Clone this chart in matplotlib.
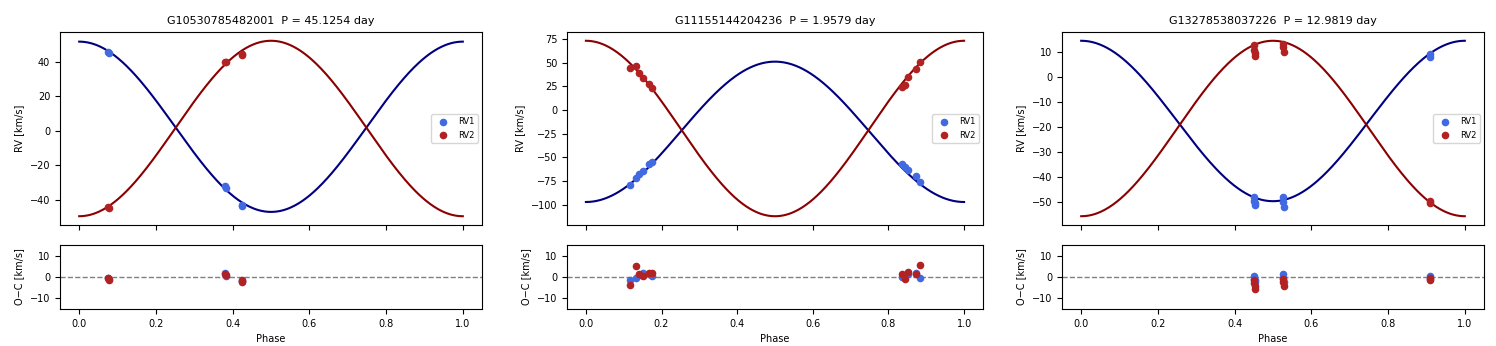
import numpy as np
import matplotlib
matplotlib.use("Agg")
import matplotlib.pyplot as plt

# star names and periods
names = ["G10530785482001", "G11155144204236", "G13278538037226"]
periods = [45.1254, 1.9579, 12.9819]

# orbit fit: systemic velocity and semi-amplitude for each component
gamma1 = [2.25, -23.0, -17.5]
k1 = [49.25, -74.0, 32.0]
gamma2 = [1.25, -19.5, -20.5]
k2 = [-50.75, 92.5, -35.0]

# observed phases / velocities / residuals
phase_a = [0.076, 0.078, 0.381, 0.383, 0.424, 0.425]
rv1_a = [45.5, 44.8, -32.0, -33.3, -43.0, -43.3]
rv2_a = [-44.0, -45.0, 39.5, 40.0, 44.5, 43.5]
oc1_a = [-0.3, -1.0, 1.8, 0.6, -1.8, -2.1]
oc2_a = [-0.5, -1.2, 1.5, 1.0, -1.5, -2.3]

phase_b = [0.117, 0.133, 0.141, 0.150, 0.166, 0.175,
           0.837, 0.845, 0.852, 0.873, 0.883]
rv1_b = [-78.9, -71.9, -67.3, -63.8, -57.1, -55.0,
         -57.1, -60.3, -63.1, -70.1, -75.4]
rv2_b = [44.8, 46.5, 38.8, 33.5, 27.6, 23.0,
         24.1, 26.5, 34.6, 43.0, 51.1]
oc1_b = [-1.4, -0.6, 0.8, 1.7, 1.3, 0.5,
         0.2, 0.6, 1.2, 1.7, -0.3]
oc2_b = [-3.8, 5.2, 1.3, 0.6, 2.0, 2.0,
         1.2, -0.9, 2.5, 1.4, 5.8]

phase_c = [0.450, 0.451, 0.452, 0.452, 0.526, 0.527, 0.528, 0.908, 0.909]
rv1_c = [-48.0, -49.3, -50.9, -50.3, -48.0, -50.0, -51.7, 9.4, 8.0]
rv2_c = [12.7, 11.0, 9.6, 8.3, 13.4, 12.0, 10.2, -49.3, -50.1]
oc1_c = [0.6, -0.8, -2.3, -1.5, 1.4, -0.6, -2.2, 0.5, -0.9]
oc2_c = [-1.2, -2.8, -4.2, -5.5, -0.9, -2.3, -4.0, -0.6, -1.4]

obs = [(phase_a, rv1_a, rv2_a, oc1_a, oc2_a),
       (phase_b, rv1_b, rv2_b, oc1_b, oc2_b),
       (phase_c, rv1_c, rv2_c, oc1_c, oc2_c)]

W, H = 1496, 346
fig = plt.figure(figsize=(W / 100, H / 100), dpi=100)

lefts = [60, 567, 1062]
rights = [482, 983, 1484]

ph = np.linspace(0, 1, 400)
for i in range(3):
    l, r = lefts[i] / W, rights[i] / W
    ax = fig.add_axes([l, (H - 225) / H, r - l, 193 / H])
    axr = fig.add_axes([l, (H - 309) / H, r - l, 64 / H], sharex=ax)

    p, v1, v2, o1, o2 = obs[i]
    ax.plot(ph, gamma1[i] + k1[i] * np.cos(2 * np.pi * ph), color="navy", lw=1.5)
    ax.plot(ph, gamma2[i] + k2[i] * np.cos(2 * np.pi * ph), color="darkred", lw=1.5)
    ax.scatter(p, v1, s=20, color="royalblue", label="RV1", zorder=3)
    ax.scatter(p, v2, s=20, color="firebrick", label="RV2", zorder=3)
    ax.set_title(f"{names[i]}  P = {periods[i]:.4f} day", fontsize=8)
    ax.set_ylabel("RV [km/s]", fontsize=7)
    ax.tick_params(labelsize=7, labelbottom=False)
    ax.legend(loc="center right", fontsize=6)

    axr.axhline(0, color="gray", ls="--", lw=1)
    axr.scatter(p, o1, s=20, color="royalblue", zorder=3)
    axr.scatter(p, o2, s=20, color="firebrick", zorder=3)
    axr.set_ylim(-15, 15)
    axr.set_yticks([-10, 0, 10])
    axr.set_xlabel("Phase", fontsize=7)
    axr.set_ylabel("O−C [km/s]", fontsize=7)
    axr.tick_params(labelsize=7)

fig.savefig("out.png", dpi=100)
